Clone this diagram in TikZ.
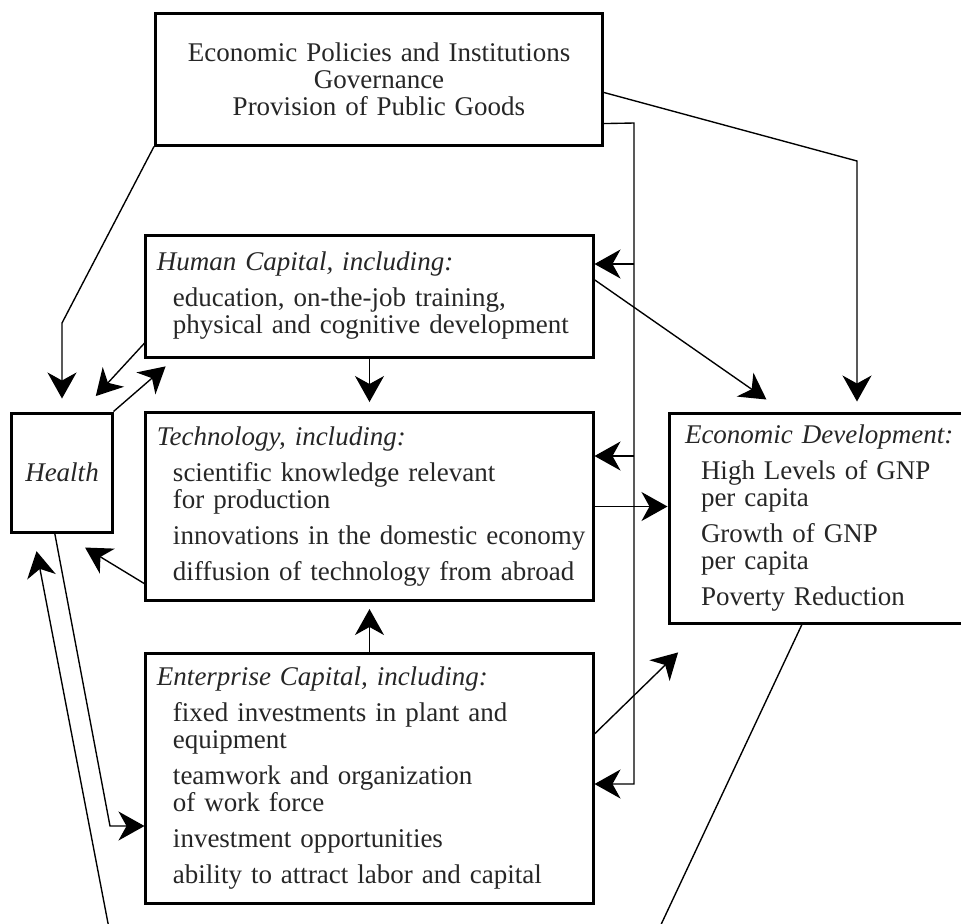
\documentclass[tikz,border=0pt]{standalone}
\usepackage{fontspec}
\setmainfont{Liberation Serif}
\usetikzlibrary{arrows.meta,positioning,calc}
\tikzset{
  frame/.style={
    rectangle, draw=black, line width=1.2pt, text=black!85,
    font=\fontsize{10.8}{10.8}\selectfont
  },
  %
  box/.style={
    frame, inner xsep=0.4pt, inner ysep=0pt, text width=178pt, align=left
  },
  %
  edbox/.style={
    box, inner xsep=2.4pt, text width=117.6pt
  },
  %
  link/.style={
    line width=0.55pt
  },
  %
  arr/.style={
    link, -{Stealth[length=10.4pt, width=11.6pt, inset=3.2pt]}
  }
}
\newcommand{\titleind}{\hspace*{4pt}}
\newcommand{\itemind}{\hspace*{10.4pt}}

\begin{document}
\begin{tikzpicture}[x=0.4pt, y=-0.4pt]
\useasboundingbox (0,0) rectangle (961,923);

\node(pol)[box, align=center, minimum height=52.8pt] at (379,79) {
    Economic Policies and Institutions\\
    Governance\\
    Provision of Public Goods
};

\node(hc)[box, minimum height=48.8pt] at (369.5,296) {
    \titleind\textit{Human Capital, including:}\\[3.6pt]
    \itemind education, on-the-job training,\\
    \itemind physical and cognitive development
};

\node(tech)[box, minimum height=75.2pt, below=21pt of hc] {
    \titleind\textit{Technology, including:}\\[3.6pt]
    \itemind scientific knowledge relevant\\
    \itemind for production\\[3.6pt]
    \itemind innovations in the domestic economy\\[3.6pt]
    \itemind diffusion of technology from abroad
};

\node(ent)[box, minimum height=100pt, below=20pt of tech] {
    \titleind\textit{Enterprise Capital, including:}\\[3.6pt]
    \itemind fixed investments in plant and\\
    \itemind equipment\\[3.6pt]
    \itemind teamwork and organization\\
    \itemind of work force\\[3.6pt]
    \itemind investment opportunities\\[3.6pt]
    \itemind ability to attract labor and capital
};

\node(health)[frame, minimum width=40pt, minimum height=47.6pt] at (62,472.5) {\textit{Health}};

\node(ed)[edbox, minimum height=84pt] at (822,518) {
    \titleind\textit{Economic Development:}\\[3.6pt]
    \itemind High Levels of GNP\\
    \itemind per capita\\[3.6pt]
    \itemind Growth of GNP\\
    \itemind per capita\\[3.6pt]
    \itemind Poverty Reduction
};

\coordinate (bendH) at (62,323);
\coordinate (bendE) at (857,161);
\coordinate (busT) at (634,123);
\coordinate (busB) at (634,784);
\coordinate (busH) at (634,264);
\coordinate (busC) at (634,456);
\coordinate (bendEnt) at (110,826);
\coordinate (offA) at (109.5,931);
\coordinate (offB) at (658,931);

\draw[arr, shorten >=5.2pt] (pol.south west) -- (bendH) -- (health.north);
\draw[arr, shorten >=4pt] ($(pol.north east)!0.6!(pol.south east)$) -- (bendE) -- (bendE |- ed.north);
\draw[arr] ($(pol.north east)!0.83!(pol.south east)$) -- (busT) -- (busB) -- (busB -| ent.east);
\draw[arr] (busH) -- (busH -| hc.east);
\draw[arr] (busC) -- (busC -| tech.east);

\draw[arr, shorten >=3.6pt] (hc) -- (tech);
\draw[arr, shorten >=2.8pt] (ent) -- (tech);
\draw[arr] (tech.east) -- (tech.east -| ed.west);
\draw[arr, shorten >=8.4pt] ($(hc.north east)!0.37!(hc.south east)$) -- ($(ed.north west)!0.376!(ed.north east)$);
\draw[arr, shorten >=16pt] ($(ent.north east)!0.324!(ent.south east)$) -- ($(ed.south west)!0.127!(ed.south east)$);

\draw[arr, shorten >=8.4pt] ($(hc.north west)!0.877!(hc.south west)$) -- ($(health.north west)!0.69!(health.north east)$);
\draw[arr, shorten >=4.8pt] (health.north east) -- ($(hc.south west)!0.067!(hc.south east)$);
\draw[arr, shorten >=10.8pt] ($(tech.north west)!0.904!(tech.south west)$) -- (health.south);
\draw[arr] ($(health.south west)!0.43!(health.south east)$) -- (bendEnt) -- (bendEnt -| ent.west);

\draw[arr, shorten >=7.2pt] (offA) -- ($(health.south west)!0.22!(health.south east)$);
\draw[link] ($(ed.south west)!0.435!(ed.south east)$) -- (offB);

\end{tikzpicture}
\end{document}
